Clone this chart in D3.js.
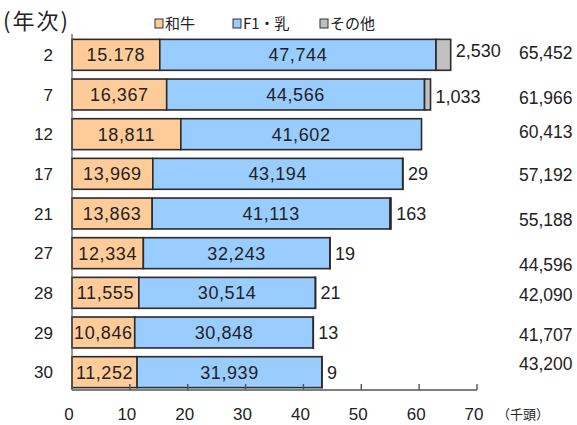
<!DOCTYPE html>
<html>
<head>
<meta charset="utf-8">
<script src="https://cdn.jsdelivr.net/npm/d3@7"></script>
<style>
  body { margin: 0; background: #fff; }
  svg { display: block; }
</style>
</head>
<body>
<svg id="chart" width="577" height="425"></svg>
<script>
// chart data (head counts), year rows top to bottom
var years   = ["2", "7", "12", "17", "21", "27", "28", "29", "30"];
var wagyu   = [15178, 16367, 18811, 13969, 13863, 12334, 11555, 10846, 11252];
var dairy   = [47744, 44566, 41602, 43194, 41113, 32243, 30514, 30848, 31939];
var other   = [2530, 1033, 0, 29, 163, 19, 21, 13, 9];
var totals  = [65452, 61966, 60413, 57192, 55188, 44596, 42090, 41707, 43200];
var wagyuText = ["15.178", "16,367", "18,811", "13,969", "13,863", "12,334", "11,555", "10,846", "11,252"];
var xTicks  = [0, 10, 20, 30, 40, 50, 60, 70];
var seriesNames = ["和牛", "F1・乳", "その他"];

var colors = ["#ffcc99", "#99ccff", "#c0c0c0"];
var numFont = "'Liberation Sans', Arial, sans-serif";
var jpFont = "'Noto Sans CJK JP', sans-serif";
var fmt = d3.format(",");

// label nudges (the original text boxes are not exactly on the bar centres)
var otherDy = [-4, 2, 0, 0, 0, 0, 0, 0, 0];
var totalDy = [-2, 3, -2, 1, 6, 12, 2, 2, -8];

var svg = d3.select("#chart");

var x = d3.scaleLinear().domain([0, 70]).range([72, 477]);
var y = d3.scaleBand().domain(years).range([35, 392]).paddingInner(0.22).paddingOuter(0.11);

var rows = years.map(function(yr, i) {
  return { year: yr, segs: [wagyu[i], dairy[i], other[i]], i: i };
});

var g = svg.append("g");

rows.forEach(function(r) {
  var x0 = 0;
  r.segs.forEach(function(v, k) {
    var k0 = x0 / 1000, k1 = (x0 + v) / 1000;
    x0 += v;
    if (v <= 0) return;
    g.append("rect")
      .attr("x", x(k0))
      .attr("y", y(r.year))
      .attr("width", x(k1) - x(k0))
      .attr("height", y.bandwidth())
      .attr("fill", colors[k])
      .attr("stroke", "#2b2b2b")
      .attr("stroke-width", 1.6);
  });
});

// labels inside and beside bars
rows.forEach(function(r) {
  var cy = y(r.year) + y.bandwidth() / 2;
  var w = r.segs[0] / 1000, d = r.segs[1] / 1000;
  g.append("text")
    .attr("x", x(w / 2)).attr("y", cy)
    .attr("dy", "0.36em")
    .attr("text-anchor", "middle")
    .attr("font-family", numFont).attr("font-size", 18)
    .attr("letter-spacing", 0.6)
    .attr("fill", "#222")
    .text(wagyuText[r.i]);
  g.append("text")
    .attr("x", x(w + d / 2)).attr("y", cy)
    .attr("dy", "0.36em")
    .attr("text-anchor", "middle")
    .attr("font-family", numFont).attr("font-size", 18)
    .attr("letter-spacing", 0.6)
    .attr("fill", "#222")
    .text(fmt(dairy[r.i]));
  if (other[r.i] > 0) {
    g.append("text")
      .attr("x", x(totals[r.i] / 1000) + 5).attr("y", cy + otherDy[r.i])
      .attr("dy", "0.36em")
      .attr("font-family", numFont).attr("font-size", 18)
      .attr("fill", "#222")
      .text(fmt(other[r.i]));
  }
  g.append("text")
    .attr("x", 519).attr("y", cy + totalDy[r.i])
    .attr("dy", "0.36em")
    .attr("font-family", numFont).attr("font-size", 17.5)
    .attr("fill", "#222")
    .text(fmt(totals[r.i]));
  // year label
  g.append("text")
    .attr("x", 53).attr("y", cy)
    .attr("dy", "0.36em")
    .attr("text-anchor", "end")
    .attr("font-family", numFont).attr("font-size", 17)
    .attr("fill", "#222")
    .text(r.year);
});

// axes
var axisY = 390;
svg.append("line")
  .attr("x1", x(0)).attr("x2", x(0))
  .attr("y1", 34).attr("y2", axisY)
  .attr("stroke", "#555").attr("stroke-width", 1.2);
svg.append("line")
  .attr("x1", x(0)).attr("x2", x(70))
  .attr("y1", axisY).attr("y2", axisY)
  .attr("stroke", "#555").attr("stroke-width", 1.4);

xTicks.forEach(function(t) {
  svg.append("line")
    .attr("x1", x(t)).attr("x2", x(t))
    .attr("y1", axisY - 6).attr("y2", axisY)
    .attr("stroke", "#555").attr("stroke-width", 1.4);
  svg.append("text")
    .attr("x", x(t) - 3).attr("y", 414)
    .attr("dy", "0.36em")
    .attr("text-anchor", "middle")
    .attr("font-family", numFont).attr("font-size", 17)
    .attr("fill", "#222")
    .text(t);
});

svg.append("text")
  .attr("x", 497).attr("y", 414)
  .attr("dy", "0.36em")
  .attr("font-family", jpFont).attr("font-size", 13)
  .attr("fill", "#222")
  .text("（千頭）");

// title
svg.append("text")
  .attr("x", 3).attr("y", 21)
  .attr("dy", "0.36em")
  .attr("font-family", jpFont).attr("font-size", 22)
  .attr("letter-spacing", 2)
  .attr("fill", "#222")
  .text("(年次)");

// legend
var legX = [155, 233, 320];
seriesNames.forEach(function(name, k) {
  svg.append("rect")
    .attr("x", legX[k]).attr("y", 19)
    .attr("width", 8).attr("height", 9)
    .attr("fill", colors[k])
    .attr("stroke", "#333").attr("stroke-width", 1);
  svg.append("text")
    .attr("x", legX[k] + 10).attr("y", 24)
    .attr("dy", "0.36em")
    .attr("font-family", jpFont).attr("font-size", 15)
    .attr("fill", "#222")
    .text(name);
});
</script>
</body>
</html>
